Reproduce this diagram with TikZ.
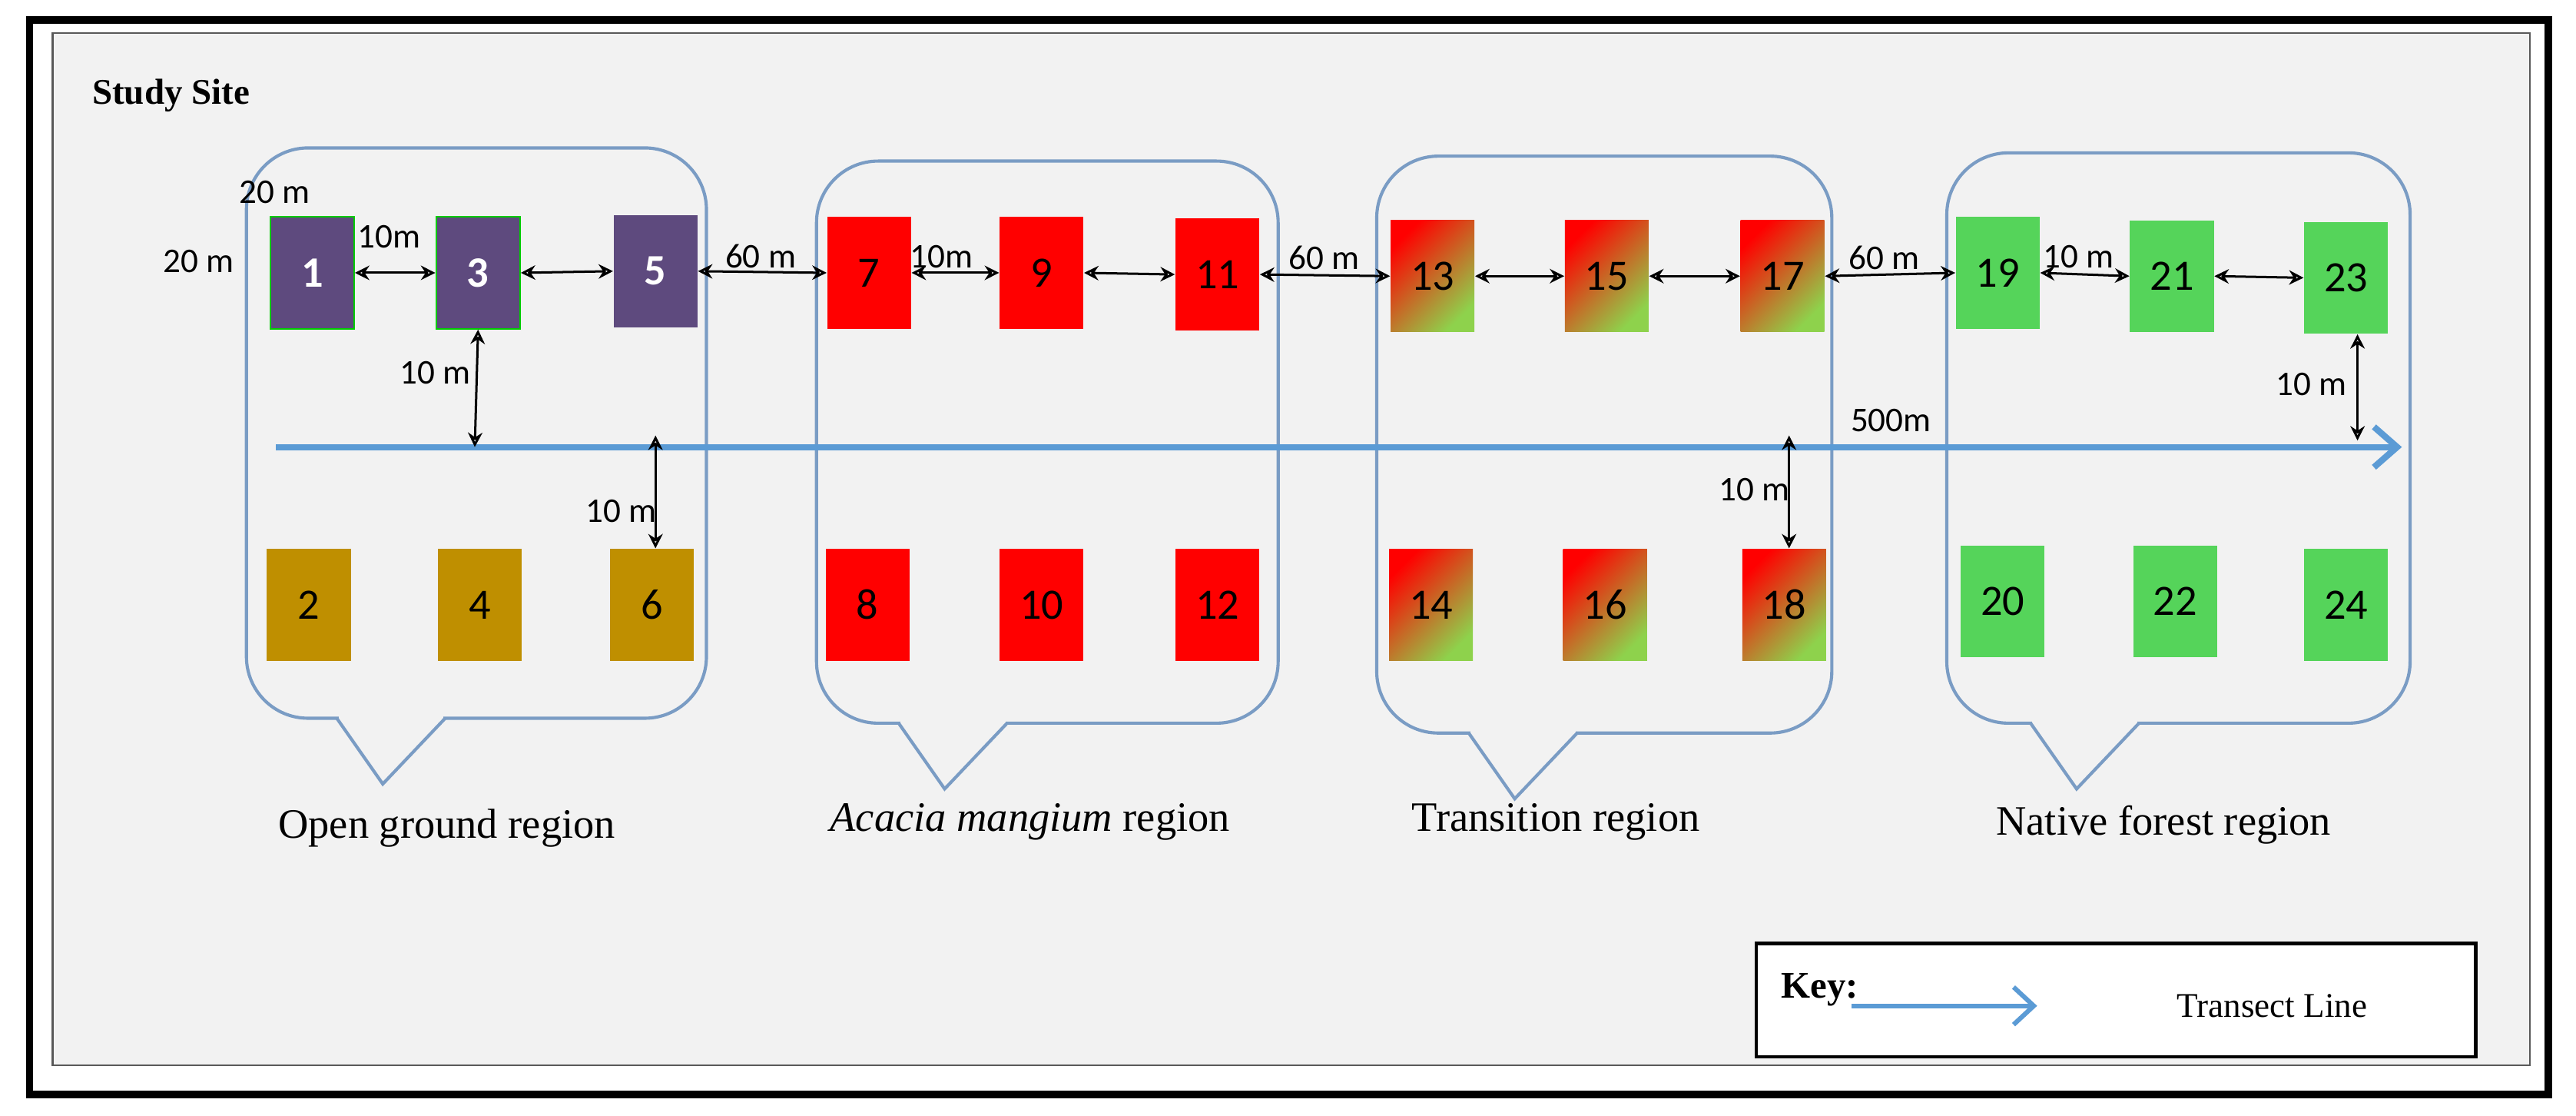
\documentclass[tikz,border=0pt]{standalone}
\usepackage{fontspec}
\setmainfont{Liberation Serif}
\newfontfamily\calfnt{Carlito}
\usetikzlibrary{arrows.meta}
\definecolor{panel}{HTML}{F2F2F2}
\definecolor{regline}{HTML}{7A9CC4}
\definecolor{tline}{HTML}{5B9BD5}
\definecolor{purp}{HTML}{5E4A7E}
\definecolor{gold}{HTML}{BF8F00}
\definecolor{grn}{HTML}{55D45A}
\definecolor{grnb}{HTML}{8ED24C}
\tikzset{
 sq/.style={minimum width=51*0.02cm,minimum height=68*0.02cm,inner sep=0pt,font=\calfnt\fontsize{15}{15}\selectfont},
 op/.style={sq,fill=purp,text=white,font=\calfnt\bfseries\fontsize{15}{15}\selectfont},
 og/.style={sq,fill=gold},
 ac/.style={sq,fill=red},
 tr/.style={sq,shading=axis,top color=red,bottom color=grnb,shading angle=45},
 nf/.style={sq,fill=grn},
 dim/.style={<->,>={Stealth[length=5pt,width=5pt,open]},black,line width=0.8pt},
 lab/.style={font=\calfnt\fontsize{12}{12}\selectfont},
 reg/.style={draw=regline,line width=1.1pt},
 rlab/.style={font=\fontsize{14.5}{14.5}\selectfont}
}
\newcommand\mycallout[5]{% x1 x2 y1 y2 tip-x
 \draw[reg,rounded corners=0.75cm] (#1,#3) rectangle (#2,#4);
 \fill[panel] (#5-27,#4-3) rectangle (#5+37,#4+3);
 \draw[reg,line join=miter] (#5-28,#4) -- (#5,#4+40) -- (#5+38,#4);}
\begin{document}
\begin{tikzpicture}[x=0.02cm,y=-0.02cm]
\useasboundingbox (0,0) rectangle (1568,679);
\fill[white] (0,0) rectangle (1568,679);
\draw[line width=2.6pt] (18,12) rectangle (1551,666);
\draw[fill=panel,draw=gray!70!black,line width=0.6pt] (32,20) rectangle (1540,648);
\node[anchor=west,font=\bfseries\fontsize{12.5}{12.5}\selectfont] (title) at (50,58) {Study Site};
% regions
\mycallout{150}{430}{90}{437}{233}
\mycallout{497}{778}{98}{440}{575}
\mycallout{838}{1115}{95}{446}{922}
\mycallout{1185}{1467}{93}{440}{1264}
\node[rlab] (r1) at (272,504) {Open ground region};
\node[rlab] (r2) at (627,500) {\textit{Acacia mangium} region};
\node[rlab] (r3) at (947,500) {Transition region};
\node[rlab] (r4) at (1317,502) {Native forest region};
% transect
\coordinate (t0) at (168,272);
\coordinate (t1) at (1462,272);
\draw[tline,line width=2.2pt,-{Straight Barb[length=8pt,width=14pt]}] (t0) -- (t1);
% squares
\node[op,draw=green!80!black,line width=0.6pt] (s1) at (190,166) {1};
\node[op,draw=green!80!black,line width=0.6pt] (s3) at (291,166) {3};
\node[op] (s5) at (399,165) {5};
\node[ac] (s7) at (529,166) {7};
\node[ac] (s9) at (634,166) {9};
\node[ac] (s11) at (741,167) {11};
\node[tr] (s13) at (872,168) {13};
\node[tr] (s15) at (978,168) {15};
\node[tr] (s17) at (1085,168) {17};
\node[nf] (s19) at (1216,166) {19};
\node[nf] (s21) at (1322,168) {21};
\node[nf] (s23) at (1428,169) {23};
\node[og] (s2) at (188,368) {2};
\node[og] (s4) at (292,368) {4};
\node[og] (s6) at (397,368) {6};
\node[ac] (s8) at (528,368) {8};
\node[ac] (s10) at (634,368) {10};
\node[ac] (s12) at (741,368) {12};
\node[tr] (s14) at (871,368) {14};
\node[tr] (s16) at (977,368) {16};
\node[tr] (s18) at (1086,368) {18};
\node[nf] (s20) at (1219,366) {20};
\node[nf] (s22) at (1324,366) {22};
\node[nf] (s24) at (1428,368) {24};
% horizontal dims
\foreach \a/\b in {1/3,3/5,5/7,7/9,9/11,11/13,13/15,15/17,17/19,19/21,21/23}
 \draw[dim] (s\a.east) -- (s\b.west);
% vertical dims
\coordinate (v1) at (289,272);
\coordinate (v2) at (399,265);
\coordinate (v3) at (1089,265);
\coordinate (v4) at (1435,268);
\draw[dim] (s3.south) -- (v1);
\draw[dim] (v2) -- (v2 |- s6.north);
\draw[dim] (v3) -- (v3 |- s18.north);
\draw[dim] (v4 |- s23.south) -- (v4);
% labels
\node[lab] (l1) at (121,159) {20 m};
\node[lab] (l2) at (167,117) {20 m};
\node[lab] (l3) at (237,144) {10m};
\node[lab] (l4) at (265,227) {10 m};
\node[lab] (l5) at (463,156) {60 m};
\node[lab] (l6) at (573,156) {10m};
\node[lab] (l7) at (378,311) {10 m};
\node[lab] (l8) at (806,157) {60 m};
\node[lab] (l9) at (1147,157) {60 m};
\node[lab] (l10) at (1265,156) {10 m};
\node[lab] (l11) at (1151,256) {500m};
\node[lab] (l12) at (1068,298) {10 m};
\node[lab] (l13) at (1407,234) {10 m};
% key
\draw[fill=white,line width=1.2pt] (1069,574) rectangle (1507,643);
\node[anchor=west,font=\bfseries\fontsize{13}{13}\selectfont] (key) at (1078,602) {Key:};
\coordinate (k0) at (1127,612);
\coordinate (k1) at (1240,612);
\draw[tline,line width=1.6pt,-{Straight Barb[length=7pt,width=13pt]}] (k0) -- (k1);
\node[font=\fontsize{12}{12}\selectfont] (kt) at (1383,612) {Transect Line};
\end{tikzpicture}
\end{document}
